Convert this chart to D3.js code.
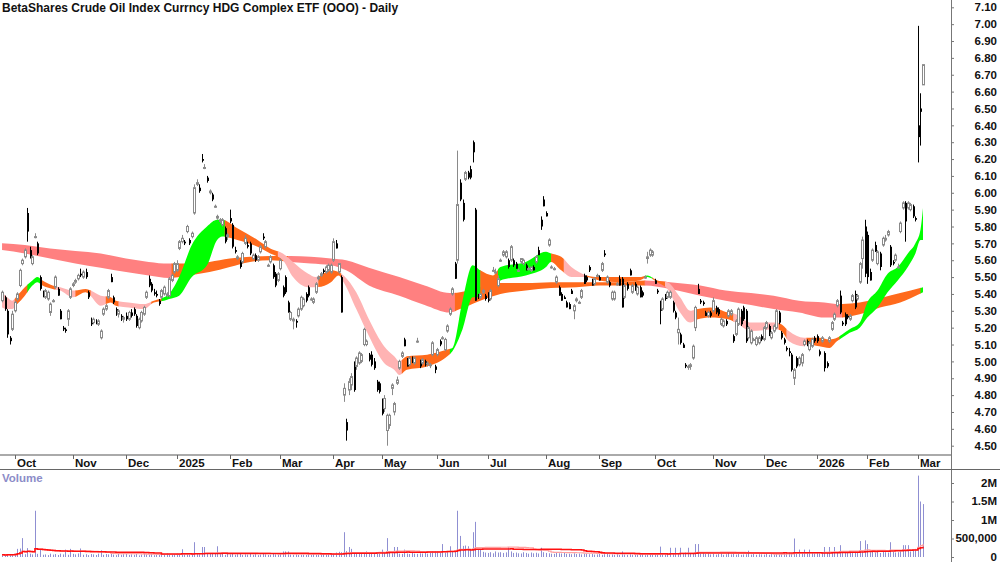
<!DOCTYPE html>
<html>
<head>
<meta charset="utf-8">
<script src="https://cdn.jsdelivr.net/npm/d3@7"></script>
<style>
    body { margin: 0; background: #fff; }
    svg { display: block; font-family: "Liberation Sans Narrow", "Arial Narrow", "Liberation Sans", Arial, sans-serif; font-weight: bold; }
</style>
</head>
<body>
<div id="chart"></div>
<script>
// ---- values ----
const chartTitle = "BetaShares Crude Oil Index Currncy HDG Complex ETF (OOO) - Daily";
const firstDay = "2024-09-24";
const lastDay = "2026-03-04";
// ASX closed
const holidays = ["2024-12-25", "2024-12-26", "2025-01-01", "2025-01-27", "2025-04-18", "2025-04-21",
    "2025-04-25", "2025-06-09", "2025-12-25", "2025-12-26", "2026-01-01", "2026-01-26"];

// one candle per trading day: [open, high, low, close]
const candles = [
    [5.36,5.42,5.35,5.41],[5.38,5.39,5.30,5.31],[5.30,5.31,5.14,5.16],[5.14,5.15,5.10,5.12],[5.19,5.30,5.18,5.28],
    [5.30,5.36,5.29,5.35],[5.37,5.41,5.36,5.40],[5.45,5.55,5.44,5.54],[5.58,5.61,5.57,5.60],[5.62,5.67,5.61,5.66],
    [5.88,5.91,5.71,5.77],[5.66,5.68,5.61,5.62],[5.58,5.63,5.57,5.62],[5.74,5.76,5.73,5.74],[5.70,5.71,5.63,5.64],
    [5.50,5.51,5.42,5.43],[5.41,5.42,5.38,5.39],[5.38,5.43,5.37,5.42],[5.37,5.42,5.36,5.41],[5.29,5.35,5.27,5.34],
    [5.36,5.37,5.35,5.36],[5.44,5.51,5.43,5.50],[5.43,5.44,5.39,5.39],[5.30,5.31,5.25,5.25],[5.20,5.21,5.18,5.19],
    [5.19,5.20,5.17,5.18],[5.25,5.31,5.21,5.30],[5.38,5.44,5.37,5.43],[5.45,5.47,5.44,5.46],[5.47,5.49,5.46,5.48],
    [5.49,5.52,5.48,5.51],[5.52,5.55,5.50,5.51],[5.50,5.54,5.49,5.53],[5.53,5.55,5.49,5.50],[5.41,5.42,5.37,5.38],
    [5.25,5.26,5.21,5.22],[5.23,5.26,5.22,5.25],[5.24,5.25,5.22,5.23],[5.22,5.25,5.21,5.24],[5.14,5.19,5.13,5.18],
    [5.28,5.32,5.27,5.31],[5.31,5.34,5.30,5.33],[5.38,5.43,5.37,5.42],[5.50,5.52,5.47,5.47],[5.38,5.39,5.34,5.35],
    [5.31,5.32,5.27,5.28],[5.28,5.31,5.26,5.30],[5.27,5.28,5.24,5.25],[5.25,5.27,5.23,5.26],[5.27,5.29,5.24,5.25],
    [5.25,5.30,5.24,5.29],[5.29,5.31,5.26,5.27],[5.31,5.32,5.27,5.28],[5.27,5.28,5.20,5.21],[5.20,5.26,5.19,5.25],
    [5.24,5.30,5.23,5.29],[5.28,5.33,5.27,5.32],[5.38,5.42,5.37,5.41],[5.49,5.51,5.44,5.45],[5.46,5.47,5.41,5.42],
    [5.41,5.43,5.39,5.40],[5.40,5.42,5.38,5.39],[5.36,5.37,5.33,5.34],[5.38,5.43,5.37,5.42],[5.40,5.45,5.39,5.44],
    [5.39,5.41,5.38,5.40],[5.39,5.50,5.38,5.49],[5.48,5.52,5.47,5.51],[5.53,5.59,5.52,5.58],[5.54,5.60,5.53,5.58],
    [5.67,5.72,5.66,5.71],[5.71,5.75,5.70,5.73],[5.71,5.72,5.69,5.70],[5.77,5.81,5.76,5.80],[5.72,5.73,5.69,5.70],
    [5.74,5.77,5.73,5.76],[5.88,6.05,5.87,6.03],[6.05,6.08,6.04,6.06],[6.03,6.05,6.00,6.01],[6.20,6.23,6.18,6.19],
    [6.15,6.17,6.14,6.15],[6.09,6.10,6.06,6.07],[6.00,6.02,5.99,6.01],[5.99,6.00,5.95,5.96],[5.92,5.93,5.91,5.92],
    [5.85,5.87,5.84,5.86],[5.83,5.85,5.82,5.84],[5.81,5.85,5.80,5.84],[5.79,5.80,5.70,5.71],[5.74,5.76,5.72,5.75],
    [5.85,5.90,5.82,5.83],[5.81,5.82,5.67,5.68],[5.66,5.68,5.64,5.65],[5.61,5.63,5.60,5.62],[5.59,5.60,5.55,5.56],
    [5.59,5.65,5.58,5.64],[5.70,5.75,5.69,5.73],[5.69,5.71,5.67,5.68],[5.70,5.71,5.63,5.64],[5.61,5.64,5.60,5.63],
    [5.63,5.64,5.59,5.60],[5.60,5.63,5.59,5.62],[5.65,5.69,5.64,5.68],[5.74,5.76,5.72,5.73],[5.68,5.72,5.67,5.71],
    [5.57,5.58,5.56,5.57],[5.59,5.63,5.58,5.62],[5.57,5.58,5.49,5.50],[5.52,5.53,5.44,5.45],[5.48,5.53,5.47,5.52],
    [5.55,5.61,5.54,5.60],[5.44,5.45,5.38,5.39],[5.50,5.51,5.40,5.41],[5.35,5.36,5.29,5.29],[5.25,5.30,5.24,5.29],
    [5.24,5.26,5.19,5.25],[5.24,5.25,5.20,5.23],[5.27,5.32,5.26,5.31],[5.31,5.39,5.30,5.38],[5.33,5.38,5.32,5.37],
    [5.40,5.41,5.35,5.36],[5.44,5.45,5.38,5.39],[5.37,5.38,5.36,5.37],[5.35,5.38,5.34,5.37],[5.41,5.47,5.40,5.46],
    [5.49,5.51,5.48,5.50],[5.51,5.53,5.50,5.52],[5.54,5.55,5.52,5.53],[5.53,5.57,5.52,5.56],[5.54,5.58,5.53,5.57],
    [5.53,5.58,5.52,5.57],[5.60,5.73,5.59,5.71],[5.70,5.72,5.67,5.67],[5.53,5.58,5.52,5.58],[5.50,5.51,5.29,5.29],
    [4.80,4.87,4.76,4.84],[4.64,4.66,4.53,4.59],[4.83,4.90,4.80,4.88],[4.86,4.93,4.83,4.91],[4.98,5.00,4.82,4.83],
    [4.97,5.03,4.95,5.02],[4.99,5.06,4.98,5.05],[5.00,5.05,4.99,5.04],[5.10,5.20,5.09,5.19],[5.10,5.13,5.09,5.12],
    [5.04,5.05,5.00,5.01],[5.04,5.06,4.97,4.98],[5.00,5.02,4.95,4.96],[4.88,4.89,4.82,4.83],[4.87,4.88,4.81,4.82],
    [4.77,4.78,4.68,4.69],[4.72,4.80,4.70,4.78],[4.59,4.69,4.50,4.68],[4.62,4.69,4.60,4.68],[4.84,4.87,4.80,4.86],
    [4.70,4.76,4.68,4.75],[4.87,4.91,4.86,4.89],[4.96,5.01,4.95,5.00],[5.03,5.06,5.02,5.05],[5.13,5.14,5.09,5.09],
    [5.01,5.02,4.97,4.97],[4.98,5.03,4.97,5.02],[5.02,5.03,4.99,5.00],[4.99,5.03,4.98,5.02],[5.12,5.14,5.11,5.12],
    [5.00,5.01,4.96,4.97],[4.99,5.02,4.98,5.01],[5.00,5.01,4.97,4.98],[4.99,5.00,4.97,4.99],[4.98,4.99,4.96,4.98],
    [5.04,5.12,5.03,5.11],[4.97,4.98,4.93,4.95],[5.04,5.08,5.03,5.07],[5.12,5.13,5.09,5.10],[5.14,5.15,5.13,5.14],
    [5.07,5.14,5.06,5.13],[5.18,5.22,5.17,5.21],[5.28,5.32,5.27,5.31],[5.40,5.44,5.39,5.43],[5.58,5.59,5.49,5.49],
    [5.60,6.25,5.58,5.93],[6.06,6.08,5.95,5.96],[5.94,5.96,5.83,5.84],[6.08,6.13,6.07,6.12],[6.12,6.13,6.08,6.09],
    [6.14,6.16,6.08,6.09],[6.30,6.31,6.18,6.24],[5.90,5.91,5.36,5.36],[5.39,5.40,5.37,5.38],[5.38,5.40,5.37,5.40],
    [5.41,5.43,5.40,5.42],[5.39,5.40,5.36,5.37],[5.40,5.41,5.35,5.36],[5.37,5.43,5.36,5.42],[5.54,5.56,5.53,5.54],
    [5.53,5.55,5.52,5.53],[5.45,5.51,5.44,5.49],[5.60,5.61,5.59,5.60],[5.63,5.66,5.62,5.65],[5.62,5.66,5.61,5.65],
    [5.60,5.61,5.55,5.56],[5.60,5.69,5.59,5.68],[5.60,5.61,5.56,5.57],[5.58,5.59,5.55,5.55],[5.54,5.55,5.53,5.54],
    [5.59,5.61,5.58,5.61],[5.58,5.61,5.57,5.60],[5.57,5.58,5.54,5.54],[5.55,5.56,5.54,5.55],[5.54,5.56,5.53,5.56],
    [5.56,5.57,5.54,5.54],[5.59,5.63,5.58,5.62],[5.66,5.68,5.63,5.63],[5.84,5.86,5.78,5.80],[5.96,5.98,5.92,5.92],
    [5.88,5.89,5.86,5.86],[5.69,5.73,5.68,5.72],[5.56,5.57,5.55,5.56],[5.55,5.56,5.54,5.55],[5.47,5.51,5.46,5.50],
    [5.44,5.45,5.39,5.39],[5.40,5.41,5.36,5.36],[5.38,5.39,5.37,5.37],[5.35,5.36,5.32,5.32],[5.34,5.35,5.31,5.31],
    [5.42,5.43,5.40,5.40],[5.30,5.34,5.25,5.33],[5.36,5.38,5.35,5.37],[5.35,5.36,5.34,5.35],[5.38,5.43,5.37,5.42],
    [5.51,5.52,5.46,5.46],[5.50,5.51,5.47,5.48],[5.56,5.57,5.53,5.54],[5.48,5.49,5.45,5.45],[5.46,5.50,5.45,5.49],
    [5.51,5.52,5.50,5.51],[5.50,5.51,5.48,5.48],[5.54,5.59,5.53,5.58],[5.64,5.66,5.62,5.63],[5.47,5.51,5.46,5.50],
    [5.47,5.48,5.44,5.45],[5.37,5.42,5.36,5.41],[5.37,5.42,5.36,5.41],[5.46,5.47,5.45,5.46],[5.49,5.51,5.45,5.45],
    [5.49,5.50,5.32,5.32],[5.38,5.46,5.37,5.45],[5.46,5.47,5.42,5.43],[5.54,5.55,5.51,5.51],[5.41,5.46,5.40,5.45],
    [5.46,5.47,5.42,5.42],[5.40,5.45,5.39,5.44],[5.44,5.45,5.38,5.38],[5.41,5.42,5.38,5.39],[5.50,5.51,5.49,5.50],
    [5.61,5.65,5.58,5.62],[5.63,5.67,5.62,5.66],[5.63,5.66,5.62,5.65],[5.48,5.49,5.46,5.46],[5.42,5.43,5.40,5.41],
    [5.35,5.36,5.22,5.30],[5.31,5.38,5.30,5.37],[5.39,5.40,5.36,5.37],[5.38,5.42,5.37,5.41],[5.38,5.42,5.37,5.41],
    [5.35,5.36,5.29,5.30],[5.29,5.30,5.25,5.26],[5.17,5.26,5.10,5.19],[5.16,5.17,5.10,5.11],[5.10,5.11,5.08,5.08],
    [4.98,4.99,4.96,4.97],[4.97,4.98,4.95,4.97],[4.97,4.99,4.95,4.98],[5.02,5.10,5.01,5.09],[5.20,5.33,5.18,5.32],
    [5.43,5.46,5.40,5.40],[5.36,5.37,5.34,5.35],[5.35,5.36,5.33,5.34],[5.29,5.30,5.27,5.27],[5.27,5.30,5.26,5.29],
    [5.29,5.30,5.26,5.27],[5.30,5.38,5.29,5.36],[5.32,5.33,5.28,5.29],[5.31,5.32,5.27,5.28],[5.22,5.26,5.21,5.25],
    [5.21,5.25,5.20,5.24],[5.24,5.25,5.21,5.22],[5.27,5.31,5.26,5.30],[5.28,5.31,5.27,5.30],[5.15,5.16,5.11,5.12],
    [5.16,5.25,5.15,5.24],[5.22,5.32,5.21,5.31],[5.30,5.31,5.21,5.22],[5.32,5.33,5.24,5.25],[5.30,5.31,5.11,5.12],
    [5.14,5.21,5.13,5.20],[5.11,5.19,5.10,5.18],[5.13,5.14,5.12,5.13],[5.10,5.15,5.09,5.14],[5.11,5.15,5.10,5.14],
    [5.15,5.16,5.12,5.13],[5.13,5.21,5.12,5.20],[5.20,5.24,5.19,5.23],[5.21,5.22,5.15,5.16],[5.14,5.18,5.13,5.17],
    [5.18,5.22,5.17,5.21],[5.20,5.31,5.19,5.30],[5.29,5.30,5.22,5.23],[5.17,5.18,5.13,5.14],[5.13,5.14,5.10,5.11],
    [5.08,5.09,5.06,5.07],[5.06,5.08,5.03,5.05],[5.04,5.05,4.94,4.95],[4.90,4.96,4.86,4.95],[5.02,5.03,4.96,4.97],
    [4.98,5.03,4.97,5.02],[4.99,5.05,4.97,5.04],[5.10,5.13,5.09,5.12],[5.12,5.13,5.09,5.10],[5.07,5.12,5.06,5.11],
    [5.09,5.14,5.08,5.13],[5.14,5.15,5.11,5.12],[5.15,5.16,5.11,5.12],[5.06,5.07,5.03,5.04],[5.12,5.15,5.11,5.14],
    [5.05,5.06,4.94,4.96],[4.99,5.00,4.96,4.97],[5.12,5.15,5.11,5.14],[5.19,5.24,5.18,5.23],[5.25,5.29,5.24,5.28],
    [5.33,5.37,5.32,5.36],[5.39,5.42,5.28,5.29],[5.23,5.24,5.21,5.22],[5.28,5.29,5.21,5.22],[5.27,5.28,5.25,5.26],
    [5.25,5.28,5.24,5.27],[5.36,5.40,5.35,5.39],[5.40,5.42,5.31,5.32],[5.37,5.40,5.36,5.39],[5.47,5.59,5.46,5.58],
    [5.61,5.74,5.55,5.72],[5.80,5.84,5.50,5.52],[5.75,5.77,5.46,5.50],[5.53,5.55,5.48,5.48],[5.60,5.67,5.59,5.66],
    [5.69,5.71,5.65,5.65],[5.58,5.66,5.57,5.65],[5.64,5.65,5.54,5.56],[5.69,5.74,5.68,5.73],[5.72,5.75,5.71,5.73],
    [5.75,5.78,5.74,5.77],[5.68,5.69,5.56,5.57],[5.59,5.60,5.57,5.58],[5.60,5.64,5.59,5.63],[5.56,5.58,5.55,5.56],
    [5.77,5.83,5.76,5.82],[5.91,5.95,5.90,5.94],[5.94,5.95,5.71,5.83],[5.91,5.95,5.90,5.94],[5.90,5.94,5.89,5.93],
    [5.92,5.93,5.85,5.86],[5.85,5.86,5.83,5.84],[6.40,6.99,6.18,6.33],[6.50,6.59,6.28,6.48],[6.64,6.76,6.64,6.76]
];

// daily volume, thousands of units
const volumeK = [
    60,45,80,55,70,90,220,230,510,75,240,90,70,1250,85,200,60,70,50,90,
    65,80,55,90,70,200,60,220,85,70,95,230,60,75,50,80,70,55,90,180,
    60,80,70,95,65,50,85,60,75,90,55,70,60,80,45,65,90,70,60,85,
    50,75,60,80,70,95,55,60,80,90,70,210,85,95,70,80,400,90,75,270,
    270,90,85,110,80,290,75,90,60,80,70,85,60,75,90,55,70,65,80,60,
    75,50,65,80,70,55,60,85,70,60,75,150,150,150,70,60,80,55,65,70,
    60,75,55,80,65,70,60,85,70,95,80,90,120,140,130,670,160,270,220,110,
    90,100,80,95,150,85,90,100,95,80,200,110,510,150,100,270,270,90,85,200,
    95,80,110,90,85,100,95,120,90,110,150,150,150,110,350,120,130,290,140,160,
    1250,570,300,310,290,200,670,950,200,200,140,120,110,130,100,150,120,130,110,125,
    270,150,110,120,100,95,130,110,90,120,100,115,95,250,130,110,100,90,85,110,
    100,95,110,85,90,75,100,80,95,70,85,90,75,80,65,70,85,60,75,80,
    65,70,60,80,55,150,70,60,85,65,55,70,60,75,50,65,60,70,55,75,
    280,80,70,95,250,85,250,90,250,100,120,250,95,110,350,350,90,100,80,95,
    70,85,65,80,90,60,75,120,70,85,65,80,60,70,75,170,65,80,60,75,
    70,65,85,60,80,70,90,75,85,110,95,120,100,500,130,200,110,200,120,200,
    110,95,130,100,120,270,110,270,120,270,130,320,140,110,130,150,120,140,110,430,
    150,450,350,130,160,120,140,110,150,130,120,400,140,120,130,150,320,320,320,150,
    180,220,2200,1500,1430
];

// short-term moving-average ribbon: trading-day index, upper edge, lower edge
const shortAt = [0,2,4,6,9,12,14,16,20,23,28,33,39,43,45,50,56,60,64,66,70,75,81,85,87,93,101,106,111,115,121,124,130,133,135,140,145,151,155,157,160,168,176,178,182,186,189,194,197,207,215,217,221,225,228,231,236,244,252,255,259,263,268,272,275,280,287,290,296,306,308,311,317,318,323,327,330,332,335,339,342,346,350,354,358,361,363,364];
const shortHi = [5.41,5.38,5.36,5.39,5.44,5.48,5.50,5.48,5.45,5.44,5.42,5.43,5.39,5.38,5.36,5.35,5.34,5.36,5.38,5.40,5.50,5.69,5.80,5.84,5.84,5.79,5.72,5.67,5.64,5.59,5.52,5.50,5.54,5.53,5.51,5.41,5.25,5.09,5.03,5.00,5.03,5.04,5.07,5.08,5.36,5.57,5.54,5.51,5.56,5.59,5.65,5.64,5.62,5.56,5.53,5.51,5.50,5.50,5.50,5.51,5.48,5.47,5.38,5.30,5.31,5.32,5.29,5.28,5.23,5.23,5.22,5.18,5.14,5.14,5.14,5.13,5.14,5.16,5.19,5.23,5.35,5.42,5.52,5.56,5.64,5.70,5.78,5.91];
const shortLo = [5.32,5.31,5.31,5.34,5.39,5.45,5.47,5.45,5.43,5.42,5.38,5.41,5.33,5.35,5.33,5.32,5.31,5.35,5.36,5.37,5.39,5.50,5.57,5.72,5.74,5.72,5.68,5.64,5.60,5.50,5.44,5.44,5.47,5.51,5.47,5.31,5.15,4.99,4.95,4.92,4.95,4.97,5.03,5.06,5.19,5.38,5.38,5.39,5.48,5.51,5.56,5.59,5.54,5.50,5.50,5.50,5.48,5.47,5.48,5.50,5.47,5.43,5.29,5.23,5.25,5.26,5.25,5.23,5.18,5.19,5.18,5.12,5.09,5.10,5.09,5.08,5.12,5.14,5.17,5.20,5.26,5.32,5.41,5.48,5.56,5.64,5.72,5.72];
// colour state of the short ribbon from each trading-day index on
const shortState = [[0,"bear"],[5,"flat"],[10,"bull"],[15,"flat"],[21,"bear"],[29,"flat"],[35,"bear"],[41,"flat"],[46,"bear"],[59,"flat"],[63,"bull"],[88,"flat"],[109,"bear"],[125,"flat"],[134,"bear"],[158,"flat"],[177,"bull"],[189,"flat"],[196,"bull"],[217,"flat"],[222,"bear"],[231,"flat"],[254,"bull"],[257,"flat"],[262,"bear"],[274,"flat"],[289,"bear"],[307,"flat"],[310,"bear"],[318,"flat"],[331,"bull"]];

// long-term moving-average ribbon
const longAt = [0,9,19,29,39,49,58,66,74,82,90,98,106,114,122,130,136,145,157,167,177,181,189,197,207,217,227,236,246,254,264,276,286,296,305,315,325,331,339,347,355,364];
const longHi = [5.70,5.69,5.67,5.655,5.64,5.61,5.59,5.58,5.58,5.59,5.61,5.62,5.625,5.625,5.62,5.61,5.60,5.555,5.50,5.45,5.405,5.41,5.44,5.465,5.465,5.47,5.47,5.47,5.47,5.48,5.47,5.45,5.42,5.405,5.39,5.36,5.35,5.34,5.35,5.375,5.405,5.44];
const longLo = [5.66,5.64,5.61,5.58,5.555,5.53,5.51,5.495,5.51,5.53,5.56,5.59,5.60,5.59,5.58,5.57,5.54,5.45,5.39,5.335,5.29,5.31,5.36,5.40,5.42,5.435,5.44,5.45,5.45,5.45,5.43,5.39,5.36,5.335,5.31,5.29,5.26,5.26,5.28,5.32,5.35,5.41];
const longState = [[0,"bear"],[67,"flat"],[113,"bear"],[179,"flat"],[254,"bear"],[332,"flat"],[363,"bull"]];

const priceTicks = [4.5,4.6,4.7,4.8,4.9,5.0,5.1,5.2,5.3,5.4,5.5,5.6,5.7,5.8,5.9,6.0,6.1,6.2,6.3,6.4,6.5,6.6,6.7,6.8,6.9,7.0,7.1];
const volumeTicks = [0, 500000, 1000000, 1500000, 2000000];
const volumeTickLabels = ["0", "500,000", "1M", "1.5M", "2M"];


class CandleChart {

    constructor(parentElement) {
        this.parentElement = parentElement;
        this.initVis();
    }

    initVis() {
        let vis = this;

        vis.width = 1000;
        vis.height = 562;
        vis.axisX = 951;

        vis.svg = d3.select("#" + vis.parentElement).append("svg")
            .attr("width", vis.width)
            .attr("height", vis.height);
        vis.defs = vis.svg.append("defs");

        // scales: one slot per trading day
        vis.x = d3.scaleLinear().domain([0, candles.length - 1]).range([2.05, 923]);
        vis.y = d3.scaleLinear().domain([4.5, 7.1]).range([445.7, 7.3]);
        vis.yVol = d3.scaleLinear().domain([0, 2000000]).range([557, 483]);

        vis.palette = {short: {bull: "#00ff00", flat: "#ff6a1c", bear: "#ffb3b3"},
                       long: {bull: "#00ff00", flat: "#ff6a1c", bear: "#ff8080"}};

        vis.wrangleData();
    }

    wrangleData() {
        let vis = this;

        const parse = d3.timeParse("%Y-%m-%d");
        const fmt = d3.timeFormat("%Y-%m-%d");
        const closed = new Set(holidays);
        vis.dates = d3.timeDay.range(parse(firstDay), d3.timeDay.offset(parse(lastDay), 1))
            .filter(d => d.getDay() !== 0 && d.getDay() !== 6 && !closed.has(fmt(d)));

        vis.monthStarts = [];
        vis.dates.forEach((d, i) => {
            if (i > 0 && d.getMonth() !== vis.dates[i - 1].getMonth()) vis.monthStarts.push({date: d, i: i});
        });

        // volume averages
        vis.volSlow = volumeK.map((v, i) => d3.mean(volumeK.slice(Math.max(0, i - 49), i + 1)) * 1000);
        vis.volFast = volumeK.map((v, i) => d3.mean(volumeK.slice(Math.max(0, i - 29), i + 1)) * 1000);

        vis.updateVis();
    }

    drawRibbon(name, at, hi, lo, states, colours) {
        let vis = this;
        const pts = at.map((d, k) => ({i: d, hi: hi[k], lo: lo[k]}));
        const area = d3.area()
            .x(d => vis.x(d.i))
            .y0(d => vis.y(d.lo))
            .y1(d => vis.y(d.hi))
            .curve(d3.curveMonotoneX);

        states.forEach((s, k) => {
            const x0 = k === 0 ? 0 : vis.x(s[0]);
            const x1 = k < states.length - 1 ? vis.x(states[k + 1][0]) : vis.axisX;
            const id = "clip-" + name + k;
            vis.defs.append("clipPath").attr("id", id)
                .append("rect")
                .attr("x", x0).attr("y", 0)
                .attr("width", x1 - x0 + 0.6).attr("height", 452);
            vis.svg.append("path")
                .datum(pts)
                .attr("d", area)
                .attr("fill", colours[s[1]])
                .attr("clip-path", `url(#${id})`);
        });
    }

    updateVis() {
        let vis = this;

        // title
        vis.svg.append("text")
            .attr("x", 2).attr("y", 12)
            .attr("font-size", 12)
            .attr("fill", "#111")
            .text(chartTitle);

        // ribbons under the candles
        vis.drawRibbon("long", longAt, longHi, longLo, longState, vis.palette.long);
        vis.drawRibbon("short", shortAt, shortHi, shortLo, shortState, vis.palette.short);

        // candles
        const up = d => d[3] >= d[0];
        const candle = vis.svg.append("g").selectAll("g")
            .data(candles)
            .enter()
            .append("g");

        candle.append("line")
            .attr("x1", (d, i) => Math.round(vis.x(i)) + 0.5)
            .attr("x2", (d, i) => Math.round(vis.x(i)) + 0.5)
            .attr("y1", d => vis.y(d[1]))
            .attr("y2", d => vis.y(d[2]))
            .attr("stroke", d => up(d) ? "#8a8a8a" : "#000")
            .attr("stroke-width", 1);

        candle.append("rect")
            .attr("x", (d, i) => Math.round(vis.x(i)) - (up(d) ? 0.5 : 0))
            .attr("width", 2)
            .attr("y", d => vis.y(Math.max(d[0], d[3])))
            .attr("height", d => Math.max(1, vis.y(Math.min(d[0], d[3])) - vis.y(Math.max(d[0], d[3]))))
            .attr("fill", d => up(d) ? "#fff" : "#000")
            .attr("stroke", d => up(d) ? "#8a8a8a" : "none")
            .attr("stroke-width", 1);

        // price axis
        const yAxis = d3.axisRight(vis.y)
            .tickValues(priceTicks)
            .tickFormat(d3.format(".2f"))
            .tickSize(3);
        vis.svg.append("g")
            .attr("transform", `translate(${vis.axisX},0)`)
            .call(yAxis)
            .call(g => g.select(".domain").remove())
            .call(g => g.selectAll("line").attr("stroke", "#777"))
            .call(g => g.selectAll("text")
                .attr("x", 46).attr("text-anchor", "end")
                .attr("font-family", null).attr("font-size", 11.5).attr("fill", "#111"));

        // frame lines
        vis.svg.append("line")
            .attr("x1", vis.axisX + 0.5).attr("x2", vis.axisX + 0.5)
            .attr("y1", 0).attr("y2", vis.height)
            .attr("stroke", "#777");
        vis.svg.append("line")
            .attr("x1", 0).attr("x2", vis.axisX)
            .attr("y1", 455).attr("y2", 455)
            .attr("stroke", "#aaa").attr("stroke-width", 2);
        vis.svg.append("line")
            .attr("x1", 0).attr("x2", vis.width)
            .attr("y1", 469.5).attr("y2", 469.5)
            .attr("stroke", "#666");

        // month axis
        const month = vis.svg.append("g").selectAll("g")
            .data(vis.monthStarts)
            .enter()
            .append("g")
            .attr("transform", d => `translate(${Math.round(vis.x(d.i)) + 0.5},0)`);
        month.append("line")
            .attr("y1", 455).attr("y2", 459)
            .attr("stroke", "#666");
        month.append("text")
            .attr("x", 1.5).attr("y", 467)
            .attr("font-size", 11.5)
            .attr("fill", "#111")
            .text(d => d.date.getMonth() === 0 ? d3.timeFormat("%Y")(d.date) : d3.timeFormat("%b")(d.date));

        // volume panel
        vis.svg.append("text")
            .attr("x", 2).attr("y", 482)
            .attr("font-size", 11.5)
            .attr("fill", "#8c8cc8")
            .text("Volume");

        vis.svg.append("g").selectAll("line")
            .data(volumeK)
            .enter()
            .append("line")
            .attr("x1", (d, i) => Math.round(vis.x(i)) + 0.5)
            .attr("x2", (d, i) => Math.round(vis.x(i)) + 0.5)
            .attr("y1", vis.yVol(0))
            .attr("y2", d => Math.min(vis.yVol(0) - 1, vis.yVol(d * 1000)))
            .attr("stroke", "#8f8fd2")
            .attr("stroke-width", 1);

        const volLine = d3.line()
            .x((d, i) => vis.x(i))
            .y(d => vis.yVol(d))
            .curve(d3.curveStepAfter);
        vis.svg.append("path")
            .datum(vis.volFast)
            .attr("d", volLine)
            .attr("fill", "none")
            .attr("stroke", "#ffa0a0")
            .attr("stroke-width", 1.2);
        vis.svg.append("path")
            .datum(vis.volSlow)
            .attr("d", volLine)
            .attr("fill", "none")
            .attr("stroke", "#ff1010")
            .attr("stroke-width", 1.5);

        const vAxis = d3.axisRight(vis.yVol)
            .tickValues(volumeTicks)
            .tickFormat((d, k) => volumeTickLabels[k])
            .tickSize(3);
        vis.svg.append("g")
            .attr("transform", `translate(${vis.axisX},0)`)
            .call(vAxis)
            .call(g => g.select(".domain").remove())
            .call(g => g.selectAll("line").attr("stroke", "#777"))
            .call(g => g.selectAll("text")
                .attr("x", 46).attr("text-anchor", "end").attr("dy", "0.28em")
                .attr("font-family", null).attr("font-size", 11.5).attr("fill", "#111"));
    }
}

new CandleChart("chart");
</script>
</body>
</html>
